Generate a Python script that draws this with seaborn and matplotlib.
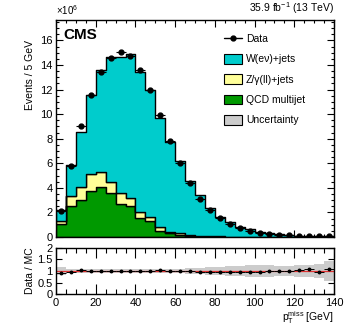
import numpy as np
import pandas as pd
import matplotlib
matplotlib.use("Agg")
import matplotlib.pyplot as plt
from matplotlib.lines import Line2D
from matplotlib.patches import Patch
from matplotlib.ticker import MultipleLocator
import seaborn as sns

# ----------------------------------------------------------
# data (values in units of 10^6 events per 5 GeV bin)
# ----------------------------------------------------------
bin_edges = list(range(0, 145, 5))
bin_centers = [2.5 + 5 * i for i in range(28)]

qcd = [1.03, 2.52, 3.01, 3.77, 4.10, 3.56, 2.66, 2.55, 1.57, 1.30,
       0.52, 0.30, 0.19, 0.12, 0.06, 0.04, 0.03, 0.02, 0.015, 0.01,
       0.008, 0.006, 0.004, 0.003, 0.002, 0.002, 0.001, 0.001]
zjets = [0.27, 0.82, 1.09, 1.36, 1.22, 0.94, 0.90, 0.65, 0.49, 0.35,
         0.27, 0.13, 0.11, 0.06, 0.04, 0.03, 0.02, 0.015, 0.01, 0.008,
         0.006, 0.004, 0.003, 0.002, 0.002, 0.001, 0.001, 0.001]
mc_total = [2.20, 5.85, 8.55, 11.56, 13.60, 14.63, 14.65, 14.92, 13.40, 12.00,
            9.67, 7.76, 6.15, 4.58, 3.42, 2.33, 1.66, 1.19, 0.84, 0.62,
            0.44, 0.32, 0.23, 0.17, 0.12, 0.09, 0.07, 0.05]
wjets = [t - q - z for t, q, z in zip(mc_total, qcd, zjets)]

data = [2.10, 5.80, 9.00, 11.60, 13.45, 14.60, 15.05, 14.70, 13.60, 11.95,
        9.90, 7.85, 6.00, 4.42, 3.09, 2.20, 1.52, 1.06, 0.71, 0.49,
        0.36, 0.27, 0.20, 0.15, 0.12, 0.09, 0.07, 0.05]

ratio = [0.93, 0.97, 1.06, 0.99, 0.99, 1.00, 1.02, 0.99, 1.01, 1.00,
         1.03, 1.01, 1.00, 0.99, 0.97, 0.97, 0.96, 0.95, 0.95, 0.95,
         0.97, 0.99, 1.00, 1.02, 1.04, 1.07, 0.97, 1.10]
ratio_unc = [0.16, 0.08, 0.07, 0.07, 0.07, 0.07, 0.07, 0.07, 0.08, 0.08,
             0.08, 0.09, 0.10, 0.12, 0.14, 0.16, 0.18, 0.20, 0.22, 0.25,
             0.25, 0.24, 0.22, 0.22, 0.24, 0.25, 0.28, 0.45]

procs = ["W(e\u03bd)+jets", "Z/\u03b3(ll)+jets", "QCD multijet"]
colors = {procs[0]: "#00CCCC", procs[1]: "#FFFF99", procs[2]: "#009900"}

# ----------------------------------------------------------
# style
# ----------------------------------------------------------
sns.set_style("ticks")
plt.rcParams["font.family"] = ["Liberation Sans", "DejaVu Sans"]
plt.rcParams["mathtext.default"] = "regular"
plt.rcParams["font.size"] = 7.5
for key in ["text.color", "axes.labelcolor", "xtick.color", "ytick.color",
            "axes.edgecolor"]:
    plt.rcParams[key] = "black"

fig = plt.figure(figsize=(3.49, 3.35), dpi=100)
ax = fig.add_axes([0.1605, 0.2925, 0.7966, 0.649])
rax = fig.add_axes([0.1605, 0.1215, 0.7966, 0.139])

# ----------------------------------------------------------
# main panel
# ----------------------------------------------------------
df = pd.DataFrame({
    "x": bin_centers * 3,
    "w": wjets + zjets + qcd,
    "proc": [procs[0]] * 28 + [procs[1]] * 28 + [procs[2]] * 28,
})
sns.histplot(data=df, x="x", weights="w", hue="proc", hue_order=procs,
             multiple="stack", bins=bin_edges, element="step", fill=True,
             palette=colors, edgecolor="black", linewidth=1.0, alpha=1,
             legend=False, ax=ax)

ax.errorbar(bin_centers, data, xerr=2.5, fmt="o", color="black",
            markersize=3.5, elinewidth=0.8, capsize=0, zorder=5)

ax.set_xlim(0, 140)
ax.set_ylim(0, 17.7)
ax.xaxis.set_major_locator(MultipleLocator(20))
ax.xaxis.set_minor_locator(MultipleLocator(5))
ax.yaxis.set_major_locator(MultipleLocator(2))
ax.yaxis.set_minor_locator(MultipleLocator(0.5))
ax.set_xticklabels([])
ax.set_xlabel("")
ax.set_ylabel("Events / 5 GeV", fontsize=7.5, ha="right")
ax.yaxis.set_label_coords(-0.076, 0.906)

ax.text(0.025, 0.961, "CMS", transform=ax.transAxes, fontsize=11,
        fontweight="bold", ha="left", va="top")
ax.text(0.0, 1.012, r"$\times10^{6}$", transform=ax.transAxes,
        fontsize=7, ha="left", va="bottom")
ax.text(1.0, 1.015, r"35.9 fb$^{-1}$ (13 TeV)", transform=ax.transAxes,
        fontsize=7.5, ha="right", va="bottom")

handles = [
    Line2D([], [], color="black", marker="o", markersize=3.5, linewidth=1),
    Patch(facecolor=colors[procs[0]], edgecolor="black", linewidth=0.8),
    Patch(facecolor=colors[procs[1]], edgecolor="black", linewidth=0.8),
    Patch(facecolor=colors[procs[2]], edgecolor="black", linewidth=0.8),
    Patch(facecolor="#CCCCCC", edgecolor="black", linewidth=0.8),
]
labels = ["Data"] + procs + ["Uncertainty"]
ax.legend(handles, labels, loc="upper left", bbox_to_anchor=(0.603, 0.935),
          frameon=False, fontsize=7.5, handlelength=1.75, handleheight=1.05,
          handletextpad=0.4, labelspacing=0.95, borderpad=0, borderaxespad=0)

# ----------------------------------------------------------
# ratio panel
# ----------------------------------------------------------
band_lo = [1 - u for u in ratio_unc]
band_hi = [1 + u for u in ratio_unc]
rax.fill_between(bin_edges, band_lo + [band_lo[-1]], band_hi + [band_hi[-1]],
                 step="post", color="#CCCCCC", linewidth=0)
rax.axhline(1, color="#E03030", linewidth=0.9)
rax.errorbar(bin_centers, ratio, xerr=2.5, yerr=0.02, fmt="o", color="black",
             markersize=1.8, elinewidth=0.7, capsize=0, zorder=5)

rax.set_xlim(0, 140)
rax.set_ylim(0, 2)
rax.xaxis.set_major_locator(MultipleLocator(20))
rax.xaxis.set_minor_locator(MultipleLocator(5))
rax.set_yticks([0, 0.5, 1, 1.5, 2])
rax.set_yticklabels(["0", "0.5", "1", "1.5", "2"])
rax.set_ylabel("Data / MC", fontsize=7.5, ha="center")
rax.yaxis.set_label_coords(-0.076, 0.5)
rax.set_xlabel(r"p$_{T}^{miss}$ [GeV]", fontsize=7.5, ha="right")
rax.xaxis.set_label_coords(1.0, -0.32)

for a, major, minor in [(ax, 5, 2.5), (rax, 7, 3.5)]:
    a.tick_params(which="both", direction="in", top=True, right=True,
                  width=0.8, labelsize=8, pad=2.5)
    a.tick_params(which="major", length=major)
    a.tick_params(which="minor", length=minor)
    for s in a.spines.values():
        s.set_linewidth(1.0)
rax.tick_params(axis="y", which="major", length=4)

fig.savefig("out.png", dpi=100)
